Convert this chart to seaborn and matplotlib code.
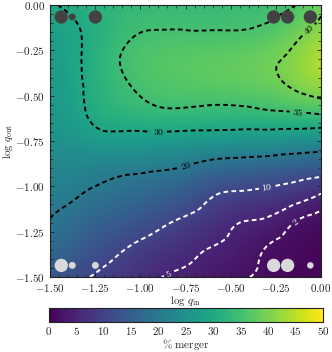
import numpy as np
import matplotlib
matplotlib.use("Agg")
import matplotlib.pyplot as plt
import matplotlib.tri as mtri
import seaborn as sns
from matplotlib.ticker import FuncFormatter, AutoMinorLocator
import pandas as pd

# -----------------------------------------------------------
# data: % merger on an 11 x 11 grid
# -----------------------------------------------------------
log_q_in = [-1.5, -1.35, -1.2, -1.05, -0.9, -0.75, -0.6, -0.45, -0.3, -0.15, 0.0]
log_q_out = [0.0, -0.15, -0.3, -0.45, -0.6, -0.75, -0.9, -1.05, -1.2, -1.35, -1.5]

# one row per log q_out value (top to bottom), columns follow log_q_in
merger_0_00 = [29.6, 31.0, 32.0, 33.5, 33.5, 33.5, 33.5, 34.0, 34.0, 34.8, 39.0]
merger_0_15 = [27.5, 29.7, 32.0, 34.5, 35.2, 35.2, 35.2, 35.2, 36.0, 38.5, 42.0]
merger_0_30 = [27.0, 29.5, 33.0, 36.0, 37.0, 37.5, 38.0, 38.5, 39.3, 41.2, 45.5]
merger_0_45 = [26.5, 29.3, 32.5, 35.0, 36.5, 37.0, 37.5, 38.0, 38.5, 40.5, 43.0]
merger_0_60 = [26.0, 28.5, 32.5, 33.0, 34.0, 34.0, 33.5, 33.5, 34.2, 34.5, 35.2]
merger_0_75 = [25.0, 26.5, 27.5, 27.5, 27.3, 27.0, 26.8, 26.5, 26.0, 25.5, 24.5]
merger_0_90 = [23.0, 22.5, 21.5, 21.0, 20.5, 19.4, 16.8, 16.0, 15.5, 14.1, 13.2]
merger_1_05 = [22.0, 20.2, 18.8, 17.4, 16.0, 13.7, 10.2, 9.1, 8.4, 7.0, 4.6]
merger_1_20 = [19.7, 17.3, 15.1, 13.2, 11.1, 9.0, 7.3, 5.0, 4.3, 2.0, 1.0]
merger_1_35 = [18.0, 14.3, 11.6, 9.5, 7.8, 6.2, 4.7, 3.7, 1.8, 1.2, 0.8]
merger_1_50 = [13.0, 11.0, 9.0, 7.5, 5.2, 4.3, 3.3, 2.3, 1.5, 0.8, 0.5]

levels = [2, 5, 10, 20, 30, 35, 40]
level_colors = ['white', 'white', 'white', 'black', 'black', 'black', 'black']
# where the contour labels sit
label_pos = [(-0.14, -1.20), (-0.85, -1.46), (-0.30, -0.99), (-0.75, -0.88),
             (-0.90, -0.69), (-0.127, -0.59), (-0.04, -0.17)]

# marker positions (dark on top, light at the bottom)
top_x = [-1.4375, -1.377, -1.249, -0.262, -0.185, -0.059]
top_size = [92, 25, 92, 92, 92, 92]
bot_x = [-1.4375, -1.377, -1.249, -0.262, -0.185, -0.059]
bot_size = [92, 25, 25, 92, 92, 22]
top_y = -0.066
bot_y = -1.436

Z = np.array([merger_0_00, merger_0_15, merger_0_30, merger_0_45, merger_0_60,
              merger_0_75, merger_0_90, merger_1_05, merger_1_20, merger_1_35,
              merger_1_50])
X, Y = np.meshgrid(log_q_in, log_q_out)

# -----------------------------------------------------------
# style
# -----------------------------------------------------------
sns.set_style("ticks")
plt.rcParams['font.family'] = ['DejaVu Serif']
plt.rcParams['mathtext.fontset'] = 'cm'
plt.rcParams['axes.edgecolor'] = '#222222'
plt.rcParams['axes.linewidth'] = 0.8

fig = plt.figure(figsize=(3.32, 3.52), dpi=100)
ax = fig.add_axes([50 / 332, 1 - 277 / 352, 271 / 332, 272 / 352])
cax = fig.add_axes([49 / 332, 1 - 322 / 352, 274 / 332, 14 / 352])

step = 0.15
im = ax.imshow(Z, extent=[-1.5 - step / 2, 0 + step / 2, -1.5 - step / 2, 0 + step / 2],
               origin='upper', cmap='viridis', vmin=0, vmax=50,
               interpolation='bicubic', aspect='auto')

# smooth contours through matplotlib's triangulation refiner
tri = mtri.Triangulation(X.ravel(), Y.ravel())
refiner = mtri.UniformTriRefiner(tri)
tri_fine, z_fine = refiner.refine_field(Z.ravel(), subdiv=3)
cs = ax.tricontour(tri_fine, z_fine, levels=levels, colors=level_colors,
                   linestyles=[(0, (2.4, 1.7))], linewidths=1.4)
labels = ax.clabel(cs, levels, inline=True, fontsize=7, fmt=lambda v: f"${v:.0f}$",
                   manual=label_pos, inline_spacing=2)
for t in labels:
    t.set_zorder(6)

df_top = pd.DataFrame({'x': top_x, 'y': top_y, 's': top_size})
df_bot = pd.DataFrame({'x': bot_x, 'y': bot_y, 's': bot_size})
sns.scatterplot(data=df_top, x='x', y='y', size='s', sizes=(min(top_size), max(top_size)),
                color='#424242', edgecolor='none', legend=False, ax=ax, zorder=5)
sns.scatterplot(data=df_bot, x='x', y='y', size='s', sizes=(min(bot_size), max(bot_size)),
                color='#d9d9d9', edgecolor='none', legend=False, ax=ax, zorder=5)

ax.set_xlim(-1.5, 0)
ax.set_ylim(-1.5, 0)
ax.set_xticks([-1.5, -1.25, -1.0, -0.75, -0.5, -0.25, 0.0])
ax.set_yticks([-1.5, -1.25, -1.0, -0.75, -0.5, -0.25, 0.0])
fmt = FuncFormatter(lambda v, p: f"${v:.2f}$")
ax.xaxis.set_major_formatter(fmt)
ax.yaxis.set_major_formatter(fmt)
ax.xaxis.set_minor_locator(AutoMinorLocator())
ax.yaxis.set_minor_locator(AutoMinorLocator())
ax.tick_params(which='both', direction='in', top=True, right=True, labelsize=8,
               color='#222222')
ax.tick_params(which='major', length=3, width=0.6)
ax.tick_params(which='minor', length=2, width=0.5)
ax.set_xlabel(r"$\log\, q_{\rm in}$", fontsize=8, labelpad=0)
ax.set_ylabel(r"$\log\, q_{\rm out}$", fontsize=8, labelpad=0)

cb = fig.colorbar(im, cax=cax, orientation='horizontal', ticks=np.arange(0, 51, 5))
cb.ax.xaxis.set_major_formatter(FuncFormatter(lambda v, p: f"${v:.0f}$"))
cb.ax.tick_params(direction='in', length=2.5, width=0.6, labelsize=8, top=False,
                  pad=2)
cb.outline.set_linewidth(0.8)
cb.set_label(r"$\%\ \mathrm{merger}$", fontsize=8, labelpad=0)

plt.savefig('out.png', dpi=100)
